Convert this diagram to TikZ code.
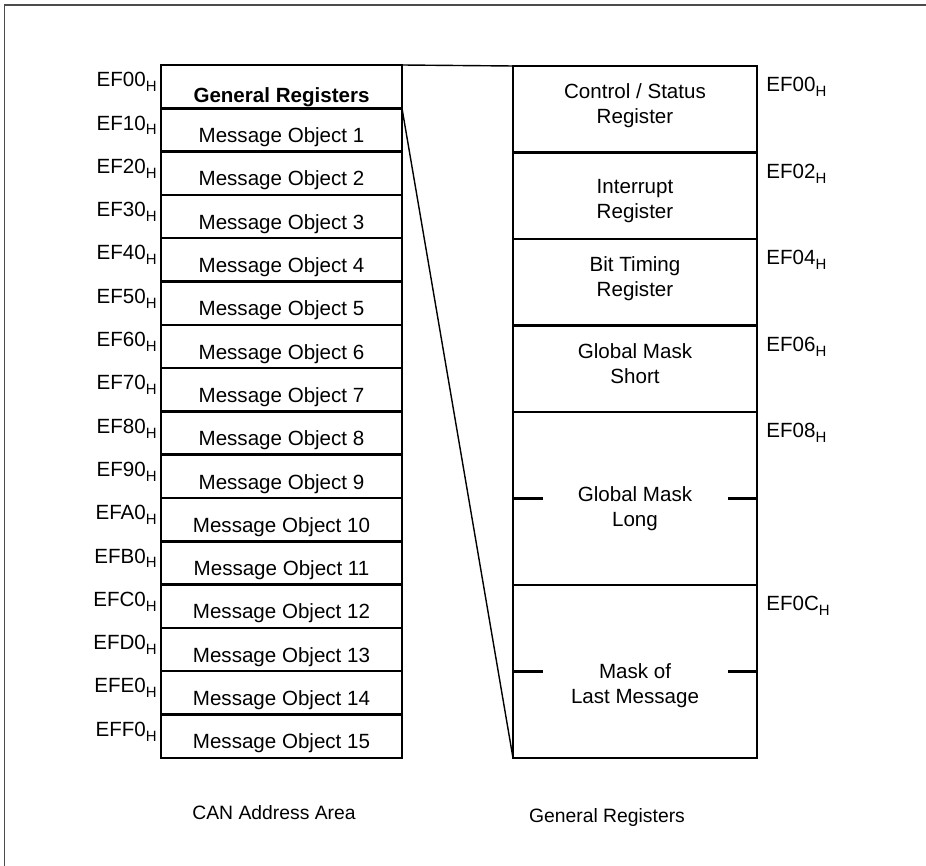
\documentclass[tikz,border=0pt]{standalone}
\usepackage{fontspec}
\setmainfont{Liberation Sans}
\usetikzlibrary{positioning}
\newcommand\hexsub{\raisebox{-0.45ex}{\fontsize{8.5}{9}\selectfont H}}
\tikzset{
	every node/.append style={
		font=\fontsize{11.7}{14.2}\selectfont,
	},
	cell/.append style={
		draw,
		line width=1.4pt,
		outer sep=0mm,
		inner sep=0mm,
	},
	msgcell/.append style={
		cell,
		minimum width=48.2mm,
		minimum height=8.66mm,
		text height=1.65em,
		text depth=0.2em,
	},
	regcell/.append style={
		cell,
		minimum width=48.8mm,
		minimum height=17.3mm,
	},
	addr/.append style={
		inner sep=0mm,
	},
	zoomline/.append style={
		line width=0.8pt,
	},
}

\begin{document}
\begin{tikzpicture}[
	x=0.2mm, y=-0.2mm,
	regtext/.style = {align=center, inner sep=0mm},
	caption/.style = {font=\fontsize{11}{13}\selectfont, inner sep=0mm},
	]
	\useasboundingbox (0,0) rectangle (926,866);
	\draw[black!70, line width=0.6pt] (4.5,866) -- (4.5,5) -- (926,5);
	
	% CAN address area
	\node[msgcell, text height=1.95em, font=\fontsize{11.7}{14.2}\selectfont\bfseries, anchor=north] (mo0) at (281.5,65) {General Registers};
	\foreach \i [evaluate=\i as \p using int(\i-1)] in {1,...,15}
		\node[msgcell, below=0mm of mo\p] (mo\i) {Message Object \i};
	\foreach \i/\h in {0/0,1/1,2/2,3/3,4/4,5/5,6/6,7/7,8/8,9/9,10/A,11/B,12/C,13/D,14/E,15/F}
		\node[addr, anchor=north east] (adr\i) at ([xshift=-0.8mm, yshift=-1.4mm]mo\i.north west) {EF\h0\hexsub};
	
	% General registers
	\node[regcell, anchor=north] (ctrl) at (635,66) {};
	\node[regcell, below=0mm of ctrl] (intr) {};
	\node[regcell, below=0mm of intr] (bit) {};
	\node[regcell, below=0mm of bit] (short) {};
	\node[regcell, minimum height=34.6mm, below=0mm of short] (long) {};
	\node[regcell, minimum height=34.6mm, below=0mm of long] (last) {};
	
	\node[regtext] (ctrltxt) at ([yshift=0.7mm]ctrl.center) {Control / Status\\Register};
	\node[regtext] (intrtxt) at ([yshift=-1.1mm]intr.center) {Interrupt\\Register};
	\node[regtext] (bittxt) at ([yshift=0.8mm]bit.center) {Bit Timing\\Register};
	\node[regtext] (shorttxt) at ([yshift=1mm]short.center) {Global Mask\\Short};
	\node[regtext] (longtxt) at ([yshift=-2mm]long.center) {Global Mask\\Long};
	\node[regtext] (lasttxt) at ([yshift=-2.9mm]last.center) {Mask of\\Last Message};
	
	\foreach \c in {long, last} {
		\draw[line width=1.4pt] (\c.west) -- ([xshift=6mm]\c.west);
		\draw[line width=1.4pt] (\c.east) -- ([xshift=-5.8mm]\c.east);
	}
	\foreach \c/\h in {ctrl/00, intr/02, bit/04, short/06, long/08, last/0C}
		\node[addr, anchor=north west] (adr\c) at ([xshift=1.8mm, yshift=-2.2mm]\c.north east) {EF\h\hexsub};
	
	\draw[zoomline] (mo0.north east) -- (ctrl.north west);
	\draw[zoomline] (mo0.south east) -- (last.south west);
	
	\node[caption, below=9.4mm of mo15, xshift=-1.5mm] (leftcap) {CAN Address Area};
	\node[caption, below=10mm of last, xshift=-5.6mm] (rightcap) {General Registers};
	
\end{tikzpicture}
\end{document}
